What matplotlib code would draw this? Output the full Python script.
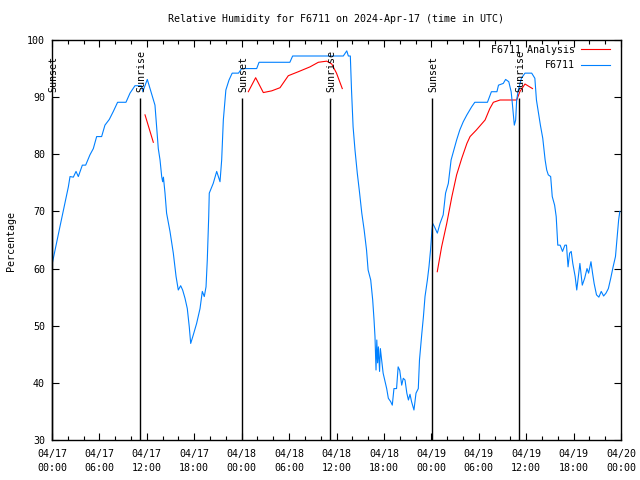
import numpy as np
import matplotlib
matplotlib.use("Agg")
import matplotlib.pyplot as plt
from matplotlib.lines import Line2D

nan = float("nan")

# hours since 04/17 00:00 UTC
obs_hours = [0.05, 0.6, 1.0, 1.65, 2.07, 2.28, 2.7, 3.04, 3.33, 3.84, 4.26, 4.8, 5.23, 5.65, 6.28,
             6.7, 7.25, 7.76, 8.3, 9.36, 9.87, 10.5, 11.3, 11.5, 12.06, 12.4, 13.03, 13.45, 13.67,
             13.88, 14.0, 14.1, 14.3, 14.5, 14.93, 15.35, 15.7, 15.98, 16.28, 16.53, 16.83, 17.12,
             17.37, 17.55, 17.88, 18.3, 18.73, 19.02, 19.27, 19.49, 19.65, 19.83, 19.9, 20.4, 20.84,
             21.05, 21.26, 21.47, 21.68, 22.0, 22.4, 22.8, 23.6, 24.0, 25.9, 26.2, 30.1, 30.45,
             36.86, 37.3, 37.5, 37.75, 37.9, 38.1, 38.34, 38.63, 38.9, 39.2, 39.5, 39.8, 40.0,
             40.33, 40.58, 40.75, 40.87, 41.0, 41.1, 41.2, 41.3, 41.45, 41.55, 41.9, 42.1, 42.35,
             42.56, 42.86, 43.06, 43.27, 43.6, 43.8, 44.0, 44.25, 44.45, 44.67, 44.9, 45.1, 45.3,
             45.5, 45.8, 46.06, 46.35, 46.5, 46.8, 47.0, 47.2, 47.5, 47.7, 47.9, 48.08, 48.17,
             48.4, 48.76, 49.1, 49.5, 49.8, 50.15, 50.5, 50.9, 51.2, 51.6, 52.04, 52.5, 53.1, 53.5,
             55.1, 55.6, 56.3, 56.5, 57.1, 57.4, 57.8, 58.1, 58.25, 58.4, 58.5, 58.67, 58.8, 59.0,
             59.4, 59.85, 60.7, 61.1, 61.3, 61.5, 61.8, 62.1, 62.4, 62.6, 62.8, 63.1, 63.3, 63.6,
             63.8, 64.0, 64.3, 64.6, 64.9, 65.1, 65.3, 65.5, 65.7, 65.9, 66.2, 66.4, 66.6, 66.8,
             67.1, 67.4, 67.7, 67.9, 68.2, 68.4, 68.6, 68.9, 69.2, 69.5, 69.8, 70.1, 70.4, 70.7,
             71.0, 71.3, 71.5, 71.7, 71.85]
obs_rh = [61.0, 64.7, 67.3, 71.5, 74.3, 76.1, 76.0, 77.0, 76.1, 78.1, 78.1, 79.9, 81.0, 83.1, 83.1,
          85.1, 86.1, 87.5, 89.1, 89.1, 90.7, 92.0, 92.0, 91.0, 93.1, 91.5, 88.6, 81.0, 79.0,
          76.1, 75.2, 76.0, 73.2, 69.7, 66.5, 62.7, 58.6, 56.25, 57.0, 56.25, 54.8, 53.0,
          49.8, 46.9, 48.4, 50.4, 53.0, 56.0, 55.1, 56.8, 61.5, 69.1, 73.2, 74.9, 77.0,
          76.1, 75.2, 79.0, 86.0, 91.25, 93.0, 94.2, 94.2, 95.0, 95.0, 96.1, 96.1, 97.2,
          97.2, 98.1, 97.2, 97.2, 91.25, 84.8, 80.75, 76.7, 73.5, 69.7, 66.75, 63.25, 59.75,
          58.0, 54.5, 51.0, 48.1, 42.25, 47.5, 43.5, 46.3, 42.0, 46.0, 41.7, 40.5, 39.0,
          37.3, 36.7, 36.1, 39.0, 39.0, 42.8, 42.2, 39.6, 40.8, 40.5, 38.2, 37.0, 38.0,
          36.7, 35.25, 38.2, 39.0, 44.0, 48.7, 51.6, 55.1, 58.0, 60.3, 63.25, 66.75, 67.9,
          67.3, 66.2, 67.9, 69.4, 73.2, 74.9, 79.0, 81.0, 82.5, 84.25, 85.7, 86.9, 88.3, 89.1,
          89.1, 90.95, 90.95, 92.1, 92.4, 93.1, 92.7, 90.95, 88.9, 86.6, 85.1, 86.0, 89.5, 91.25,
          93.3, 94.2, 94.2, 93.3, 89.5, 87.75, 85.1, 82.8, 79.0, 77.25, 76.4, 76.1, 72.6, 71.1,
          69.1, 64.1, 64.1, 63.0, 64.1, 64.1, 60.3, 62.7, 63.0, 60.9, 58.6, 56.25, 58.6, 60.9,
          57.1, 58.3, 60.0, 59.2, 61.2, 59.2, 57.4, 55.4, 55.0, 56.0, 55.2, 55.7, 56.5, 58.3,
          60.3, 62.1, 65.3, 68.5, 70.0]

ana_hours = [11.77, 12.82, nan,
             24.84, 25.77, 26.74, 27.8, 28.85, 29.9, 31.17, 32.65, 33.7, 34.76, 35.4, 36.0, 36.73, nan,
             48.75, 49.3, 49.95, 50.6, 51.2, 51.85, 52.5, 52.9, 53.7, 54.8, 55.4, 55.85, 56.7, 58.8,
             59.2, 59.85, 60.8]
ana_rh = [86.9, 82.1, nan,
          90.95, 93.4, 90.8, 91.1, 91.65, 93.75, 94.45, 95.3, 96.1, 96.3, 95.8, 94.2, 91.5, nan,
          59.45, 63.8, 67.9, 72.6, 76.4, 79.3, 81.9, 83.1, 84.25, 86.0, 88.0, 89.1, 89.5, 89.5,
          90.95, 92.3, 91.5]

event_hours = [0.0, 11.13, 24.04, 35.18, 48.08, 59.09]
event_labels = ["Sunset", "Sunrise", "Sunset", "Sunrise", "Sunset", "Sunrise"]

xtick_hours = [0, 6, 12, 18, 24, 30, 36, 42, 48, 54, 60, 66, 72]
xtick_labels = ["04/17\n00:00", "04/17\n06:00", "04/17\n12:00", "04/17\n18:00",
                "04/18\n00:00", "04/18\n06:00", "04/18\n12:00", "04/18\n18:00",
                "04/19\n00:00", "04/19\n06:00", "04/19\n12:00", "04/19\n18:00",
                "04/20\n00:00"]
ytick_values = [30, 40, 50, 60, 70, 80, 90, 100]

FONT = "DejaVu Sans Mono"
FS = 7.2
RED = "#ff0000"
BLUE = "#0080ff"
LW = 0.8

fig = plt.figure(figsize=(6.4, 4.8), dpi=100)
ax = fig.add_axes([52/640, 40/480, 569/640, 400/480])

ax.plot(ana_hours, ana_rh, color=RED, lw=LW)
ax.plot(obs_hours, obs_rh, color=BLUE, lw=LW)

for h, lab in zip(event_hours, event_labels):
    ax.vlines(h, 30, 89.9, color="black", lw=1.0, clip_on=False)
    ax.annotate(lab, xy=(h, 90.9), xytext=(1.2, 0), textcoords="offset points",
                rotation=90, ha="center", va="bottom", fontsize=FS, family=FONT,
                annotation_clip=False)

ax.set_xlim(0, 72)
ax.set_ylim(30, 100)
ax.set_xticks(xtick_hours)
ax.set_xticklabels(xtick_labels, family=FONT, fontsize=FS, linespacing=1.45)
ax.set_xticks(np.arange(0, 73, 2), minor=True)
ax.set_yticks(ytick_values)
ax.set_yticklabels([str(v) for v in ytick_values], family=FONT, fontsize=FS)
ax.tick_params(which="major", direction="in", length=5, width=0.8, top=True, right=True, pad=5)
ax.tick_params(axis="x", which="major", pad=6.5)
ax.tick_params(which="minor", direction="in", length=3, width=0.8, top=True, right=False, left=False)
for s in ax.spines.values():
    s.set_linewidth(1.0)

handles = [Line2D([], [], color=RED, lw=LW), Line2D([], [], color=BLUE, lw=LW)]
ax.legend(handles, ["F6711 Analysis", "F6711"], loc="upper right",
          bbox_to_anchor=(0.981, 0.9885), frameon=False, markerfirst=False,
          prop={"family": FONT, "size": FS}, handlelength=2.9, handletextpad=0.6,
          labelspacing=0.55, borderaxespad=0, borderpad=0)

fig.text(336/640, 1 - 19/480, "Relative Humidity for F6711 on 2024-Apr-17 (time in UTC)",
         ha="center", va="center", family=FONT, fontsize=FS)
fig.text(11/640, 1 - 241/480, "Percentage", rotation=90, ha="center", va="center",
         family=FONT, fontsize=FS)

fig.savefig("out.png", dpi=100)
